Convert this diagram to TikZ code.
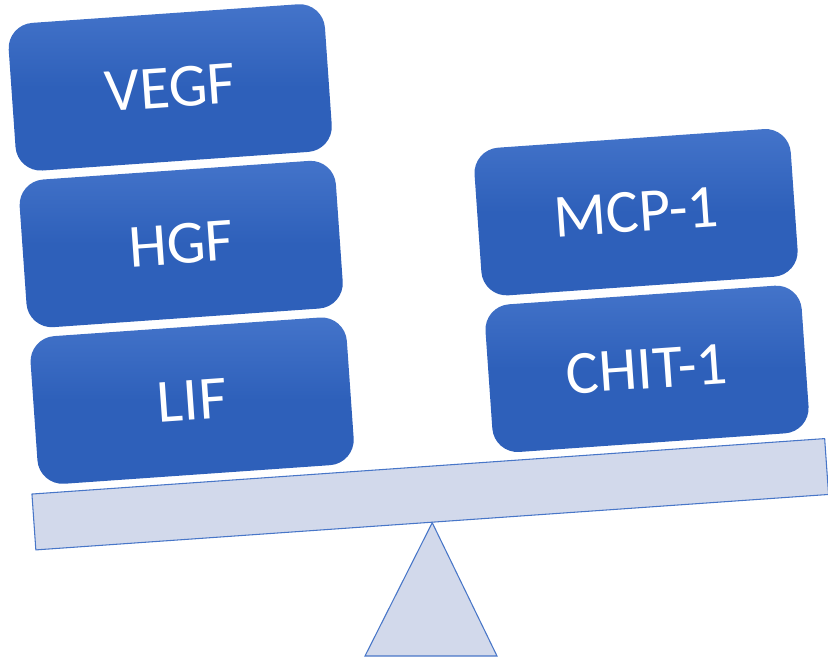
\documentclass[tikz,border=0pt]{standalone}
\usepackage{fontspec}
\setmainfont{Carlito}
\definecolor{boxTop}{RGB}{68,116,202}
\definecolor{boxBottom}{RGB}{46,96,186}
\definecolor{beamFill}{RGB}{210,217,235}
\definecolor{beamLine}{RGB}{72,118,200}

\begin{document}
\begin{tikzpicture}[x=0.75pt,y=-0.75pt,
	factorBox/.style={rounded corners=19pt, minimum width=237.75pt, minimum height=111pt, inner sep=0pt,
		top color=boxTop, bottom color=boxBottom, middle color=boxBottom,
		text=white, font=\fontsize{46}{50}\selectfont},
	beamBar/.style={draw=beamLine, fill=beamFill, line width=0.8pt, minimum width=596pt, minimum height=42pt, inner sep=0pt}]
\useasboundingbox (0,0) rectangle (828,660);
\begin{scope}[shift={(430.25,494.25)}, rotate=4, transform shape]
	\node[beamBar] (beam) at (0,0) {};
	\node[factorBox] (lif) at (-231,-110) {LIF};
	\node[factorBox] (hgf) at (-231,-267) {HGF};
	\node[factorBox] (vegf) at (-231,-424) {VEGF};
	\node[factorBox] (chit) at (225,-110) {CHIT-1};
	\node[factorBox] (mcp) at (225,-267) {MCP-1};
\end{scope}
\draw[draw=beamLine, fill=beamFill, line width=0.8pt]
	(beam.south) -- (365,656) -- (497,656) -- cycle;
\end{tikzpicture}
\end{document}
